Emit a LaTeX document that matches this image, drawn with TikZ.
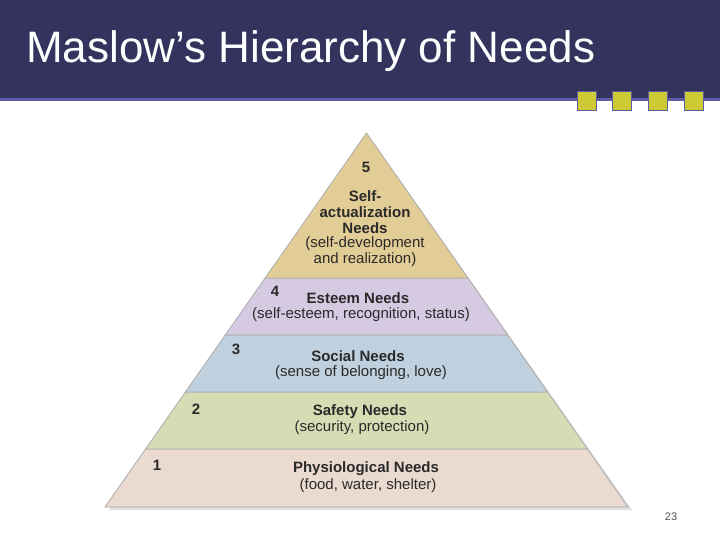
\documentclass[tikz,border=0pt]{standalone}
\usepackage{fontspec}
\setmainfont{Liberation Sans}
\usetikzlibrary{positioning}
\definecolor{HeadNavy}{HTML}{33335E}
\definecolor{HeadLine}{HTML}{5C5CA6}
\definecolor{SqYellow}{HTML}{CDCA36}
\definecolor{LvlFive}{HTML}{E2CD97}
\definecolor{LvlFour}{HTML}{D5CAE2}
\definecolor{LvlThree}{HTML}{BFD1DE}
\definecolor{LvlTwo}{HTML}{D6DDB4}
\definecolor{LvlOne}{HTML}{EBDACF}
\definecolor{TextDark}{HTML}{2A2A2A}

\begin{document}
\begin{tikzpicture}[
  x=1pt, y=-1pt,
  band/.style={draw=gray!65, line width=0.8pt, line join=miter},
  sq/.style={draw=HeadLine, fill=SqYellow, line width=1.6pt, minimum size=19pt, inner sep=0pt},
  num/.style={font=\fontsize{15}{16}\selectfont\bfseries, text=TextDark, inner sep=0pt},
  need/.style={font=\fontsize{15}{16}\selectfont\bfseries, text=TextDark, align=center, inner sep=0pt},
  note/.style={font=\fontsize{15}{16}\selectfont, text=TextDark, align=center, inner sep=0pt}
]
\useasboundingbox (0,0) rectangle (720,540);
\fill[white] (0,0) rectangle (720,540);

% header
\fill[HeadNavy] (0,0) rectangle (720,98);
\draw[HeadLine, line width=3pt] (0,99.5) -- (720,99.5);
\node[anchor=west, text=white, font=\fontsize{44}{46}\selectfont, inner sep=0pt] (title) at (26,51) {Maslow’s Hierarchy of Needs};
\node[sq] (sqa) at (587,101) {};
\node[sq] (sqb) at (622,101) {};
\node[sq] (sqc) at (658,101) {};
\node[sq] (sqd) at (694,101) {};

% shadow
\fill[gray!25] (369,136) -- (632,510) -- (109,510) -- cycle;

% pyramid bands
\filldraw[band, fill=LvlOne] (145.6,449) -- (587.4,449) -- (628,507) -- (105,507) -- cycle;
\filldraw[band, fill=LvlTwo] (185.4,392) -- (547.6,392) -- (587.4,449) -- (145.6,449) -- cycle;
\filldraw[band, fill=LvlThree] (225.3,335) -- (507.7,335) -- (547.6,392) -- (185.4,392) -- cycle;
\filldraw[band, fill=LvlFour] (265.1,278) -- (467.9,278) -- (507.7,335) -- (225.3,335) -- cycle;
\filldraw[band, fill=LvlFive] (366.5,133) -- (467.9,278) -- (265.1,278) -- cycle;

% level 5
\node[num] (n5) at (366,167) {5};
\node[need] (self) at (365,212) {Self-\\actualization\\Needs};
\node[note] (selfnote) at (365,252) {(self-development\\and realization)};

% level 4
\node[num] (n4) at (275,291) {4};
\node[need] (esteem) at (358,298) {Esteem Needs};
\node[note] (esteemnote) at (361,315) {(self-esteem, recognition, status)};

% level 3
\node[num] (n3) at (236,349) {3};
\node[need] (social) at (358,356) {Social Needs};
\node[note] (socialnote) at (361,373) {(sense of belonging, love)};

% level 2
\node[num] (n2) at (196,409) {2};
\node[need] (safety) at (360,412) {Safety Needs};
\node[note] (safetynote) at (362,428) {(security, protection)};

% level 1
\node[num] (n1) at (157,465) {1};
\node[need] (physio) at (366,469) {Physiological Needs};
\node[note] (physionote) at (368,486) {(food, water, shelter)};

% page number
\node[font=\fontsize{11}{12}\selectfont, text=TextDark!80] (page) at (671,517) {23};
\end{tikzpicture}
\end{document}
